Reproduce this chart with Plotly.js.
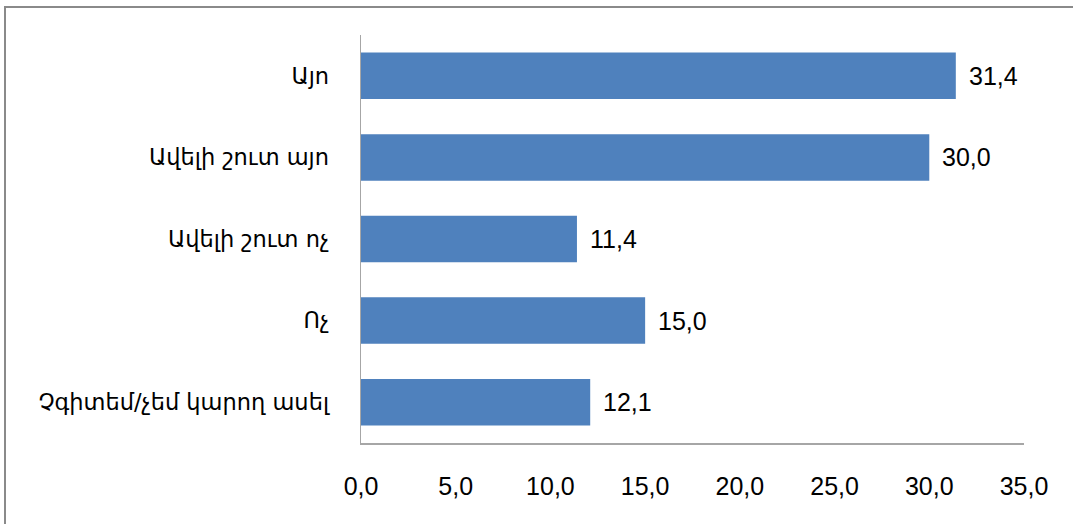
<!DOCTYPE html>
<html>
<head>
<meta charset="utf-8">
<script src="https://cdn.plot.ly/plotly-3.0.1.min.js"></script>
<style>
  html, body { margin: 0; padding: 0; background: #fff; overflow: hidden; }
  #wrap { position: relative; width: 1073px; height: 524px; }
  #chart { position: absolute; left: 0; top: 0; width: 1073px; height: 524px; }
  #frame { position: absolute; left: 4px; top: 6px; width: 1200px; height: 700px;
           border-left: 2px solid #8a8a8a; border-top: 2px solid #8a8a8a; pointer-events: none; }
</style>
</head>
<body>
<div id="wrap">
  <div id="chart"></div>
  <div id="frame"></div>
</div>
<script>
const categories = ["Այո", "Ավելի շուտ այո", "Ավելի շուտ ոչ", "Ոչ", "Չգիտեմ/չեմ կարող ասել"];
const values = [31.4, 30.0, 11.4, 15.0, 12.1];
const xTicks = [0, 5, 10, 15, 20, 25, 30, 35];

const font = "Liberation Sans, Arial, DejaVu Sans, sans-serif";
const catFont = "DejaVu Sans, Liberation Sans, sans-serif";

const trace = {
  type: "bar",
  orientation: "h",
  x: values,
  y: categories,
  marker: { color: "#4F81BD" },
  hoverinfo: "none"
};

const annotations = values.map((v, i) => ({
  x: v, y: categories[i], xref: "x", yref: "y",
  text: v.toFixed(1).replace(".", ","),
  showarrow: false, xanchor: "left", yanchor: "middle", xshift: 11,
  font: { family: font, size: 25, color: "#000" }
}));

const layout = {
  width: 1073, height: 524,
  margin: { l: 361, r: 49, t: 35, b: 81, pad: 0 },
  paper_bgcolor: "#fff", plot_bgcolor: "#fff",
  separators: ", ",
  showlegend: false,
  bargap: 0.43,
  xaxis: {
    range: [0, 35], tickvals: xTicks, tickformat: ".1f",
    showgrid: false, zeroline: false,
    showline: true, linecolor: "#a6a6a6", linewidth: 1.5,
    ticks: "", ticklabelstandoff: 20,
    tickfont: { family: font, size: 25, color: "#000" }
  },
  yaxis: {
    autorange: "reversed", type: "category",
    showgrid: false, zeroline: false,
    showline: true, linecolor: "#a6a6a6", linewidth: 1.5,
    ticks: "", ticklabelstandoff: 26,
    tickfont: { family: catFont, size: 22.5, color: "#000" }
  },
  annotations: annotations
};

Plotly.newPlot("chart", [trace], layout, { staticPlot: true, displayModeBar: false });
</script>
</body>
</html>
